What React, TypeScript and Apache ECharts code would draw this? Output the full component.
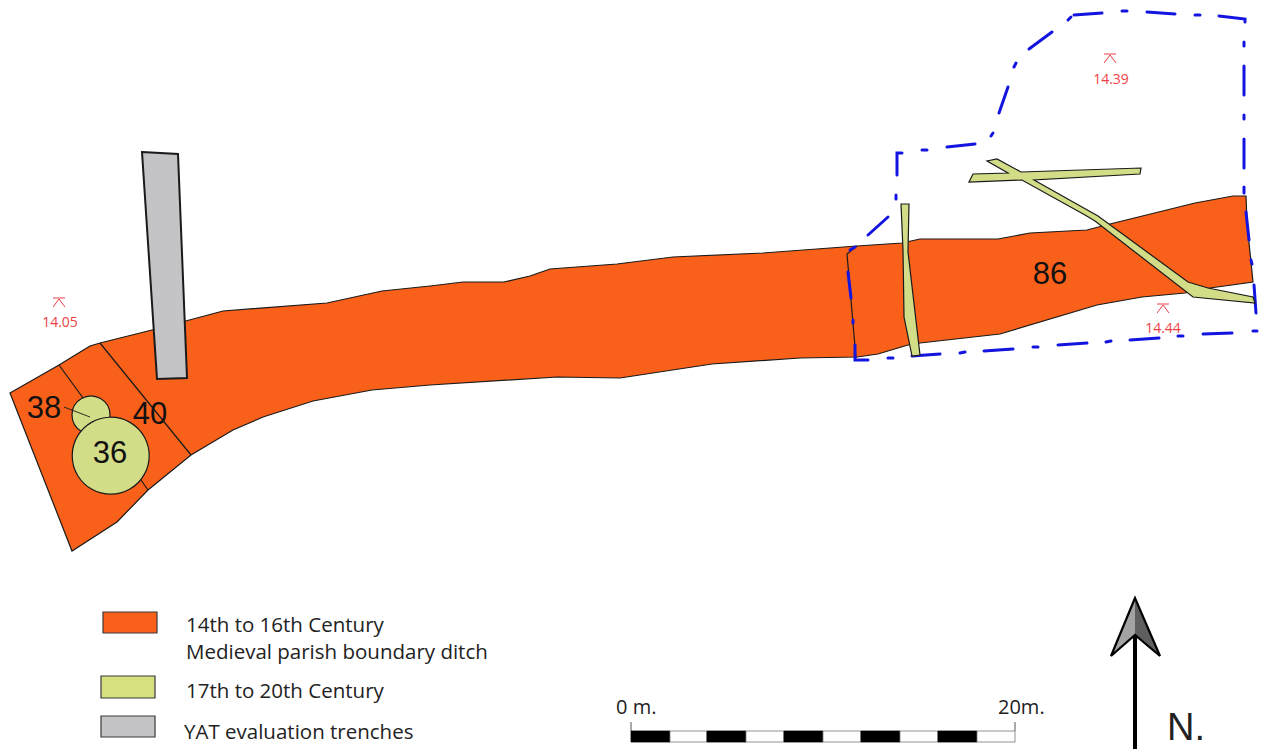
import React, { useEffect, useRef } from "react";
import * as echarts from "echarts";

type Pt = [number, number];

const ditchOutline: Pt[] = [
  [10, 393], [59, 365], [90, 346], [100, 343], [152, 330], [223, 311], [327, 303], [382, 291], [430, 286],
  [463, 282], [504, 282], [530, 276], [550, 269], [617, 264], [673, 257], [763, 253], [857, 246], [902, 243],
  [920, 239], [998, 239], [1030, 233], [1087, 230], [1110, 224], [1195, 203], [1233, 196], [1246, 196],
  [1247, 223], [1253, 282], [1210, 288], [1185, 293], [1142, 297], [1097, 305], [1000, 334], [920, 343],
  [908, 345], [878, 354], [857, 357], [800, 358], [712, 364], [620, 378], [557, 377], [430, 385], [372, 390],
  [313, 401], [263, 417], [233, 430], [191, 455], [148, 490], [117, 522], [72, 551],
];
const ditchDividers: Pt[][] = [
  [[59, 365], [83, 398]],
  [[100, 343], [191, 455]],
  [[141, 480], [148, 490]],
  [[857, 246], [847, 254], [856, 358]],
];
const trenchOutline: Pt[] = [[142, 152], [178, 154], [187, 378], [157, 379]];
const greenVertical: Pt[] = [[901, 204], [909, 204], [908, 252], [920, 355], [912, 356], [904, 317], [903, 250]];
const greenBranch: Pt[] = [
  [969, 182], [973, 174], [1008, 173], [987, 161], [997, 159], [1021, 172], [1141, 168], [1140, 174], [1034, 180],
  [1098, 216], [1188, 282], [1208, 288], [1253, 297], [1255, 303], [1193, 297], [1095, 221], [1085, 215], [1022, 180],
];
const pitCircles: [number, number, number][] = [[91, 415, 19], [110.7, 455.7, 38.5]];
const leaderLine: Pt[] = [[64, 407], [90, 417]];
const boundaryDashes: Pt[][] = [
  [[897, 175], [897, 153], [902, 153]], [[922, 150], [927, 150]], [[947, 147], [975, 144]], [[991, 136], [993, 133]],
  [[999, 113], [1008, 87]], [[1014, 67], [1016, 63]], [[1029, 49], [1052, 32]], [[1068, 20], [1071, 17]],
  [[1074, 15], [1102, 13]], [[1122, 11], [1127, 11]], [[1147, 12], [1175, 14]], [[1195, 15], [1200, 15]],
  [[1219, 16], [1245, 19], [1245, 22]], [[1244, 42], [1244, 46]], [[1244, 66], [1244, 95]], [[1244, 115], [1244, 119]],
  [[1244, 139], [1244, 168]], [[1244, 187], [1244, 193]], [[1246, 212], [1249, 240]], [[1251, 260], [1252, 264]],
  [[1254, 285], [1256, 313]], [[1253, 331], [1257, 331]], [[1203, 334], [1232, 333]], [[1178, 336], [1183, 336]],
  [[1130, 340], [1159, 338]], [[1106, 342], [1111, 341]], [[1058, 345], [1087, 343]], [[1033, 347], [1038, 347]],
  [[984, 351], [1013, 349]], [[960, 353], [965, 352]], [[912, 356], [940, 354]], [[888, 358], [893, 358]],
  [[868, 360], [855, 360], [855, 345]], [[853, 320], [853, 323]], [[848, 272], [851, 298]], [[850, 250], [855, 247]],
  [[868, 235], [888, 217]], [[896, 199], [896, 195]],
];
const contextLabels: [string, number, number][] = [["38", 44, 407], ["40", 150, 413], ["36", 110, 452], ["86", 1050, 273]];
const levelLabels: [string, number, number][] = [["14.05", 60, 321], ["14.39", 1111, 78], ["14.44", 1163, 327]];
const levelMarks: Pt[] = [[59, 298], [1110, 54], [1163, 304]];
const legendSwatches: [number, number, number, number, string][] = [
  [103, 612, 54, 21, "#f9611a"],
  [101, 676, 54, 22, "#d6e07f"],
  [101, 716, 54, 21, "#c4c4c6"],
];
const legendLabels: [string, number, number][] = [
  ["14th to 16th Century", 186, 624],
  ["Medieval parish boundary ditch", 186, 651],
  ["17th to 20th Century", 186, 690],
  ["YAT evaluation trenches", 184, 731],
];
const scaleStops = [631, 670, 707, 746, 784, 823, 861, 900, 938, 977, 1015];
const scaleLabels: [string, number, number][] = [["0 m.", 616, 706], ["20m.", 998, 706]];
const arrowLeft: Pt[] = [[1135, 598], [1111, 656], [1135, 635]];
const arrowRight: Pt[] = [[1135, 598], [1160, 656], [1135, 635]];
const arrowOutline: Pt[] = [[1135, 598], [1111, 656], [1135, 635], [1160, 656]];
const arrowShaft: Pt[] = [[1135, 636], [1135, 749]];
const northLabel: [string, number, number] = ["N.", 1167, 727];

const pts = (api: any, list: Pt[]) => list.map((p) => api.coord(p));
const poly = (api: any, list: Pt[], style: any) => ({
  type: "polygon", shape: { points: pts(api, list) }, style: { lineJoin: "miter", ...style },
});
const line = (api: any, list: Pt[], style: any) => ({
  type: "polyline", shape: { points: pts(api, list) }, style: { fill: "none", ...style },
});
const txt = (api: any, t: [string, number, number], style: any) => {
  const c = api.coord([t[1], t[2]]);
  return { type: "text", x: c[0], y: c[1], style: { text: t[0], verticalAlign: "middle", ...style } };
};

const layer = (name: string, z: number, draw: (api: any) => any[]) => ({
  type: "custom", name, z, silent: true, clip: false, coordinateSystem: "cartesian2d",
  data: [[0, 0]],
  renderItem: (_: any, api: any) => ({ type: "group", children: draw(api) }),
});

const BLACK = "#1a1a1a";
const SANS = "'Liberation Sans', Arial, sans-serif";
const OPEN = "'Open Sans', sans-serif";

export default function App() {
  const ref = useRef<HTMLDivElement>(null);
  useEffect(() => {
    document.body.style.margin = "0";
    document.body.style.background = "#fff";
    const chart = echarts.init(ref.current!, null, { renderer: "svg" });
    chart.setOption({
      animation: false,
      backgroundColor: "#ffffff",
      grid: { left: 0, right: 0, top: 0, bottom: 0 },
      xAxis: { type: "value", min: 0, max: 1263, show: false },
      yAxis: { type: "value", min: 0, max: 749, inverse: true, show: false },
      series: [
        layer("Ditch", 1, (api) => [
          poly(api, ditchOutline, { fill: "#f9611a", stroke: BLACK, lineWidth: 1.2 }),
          ...ditchDividers.map((d) => line(api, d, { stroke: BLACK, lineWidth: 1.2 })),
        ]),
        layer("Boundary", 2, (api) =>
          boundaryDashes.map((d) => line(api, d, { stroke: "#1414e0", lineWidth: 3, lineCap: "round" }))),
        layer("Features", 3, (api) => [
          poly(api, trenchOutline, { fill: "#c4c4c6", stroke: BLACK, lineWidth: 2 }),
          poly(api, greenVertical, { fill: "#d3dc86", stroke: BLACK, lineWidth: 1.2 }),
          poly(api, greenBranch, { fill: "#d3dc86", stroke: BLACK, lineWidth: 1.2 }),
          ...pitCircles.map(([x, y, r]) => {
            const c = api.coord([x, y]);
            return {
              type: "circle",
              shape: { cx: c[0], cy: c[1], r: api.size([r, 0])[0] },
              style: { fill: "#d3dc86", stroke: BLACK, lineWidth: 1.2 },
            };
          }),
          line(api, leaderLine, { stroke: BLACK, lineWidth: 0.9 }),
        ]),
        layer("Labels", 4, (api) => [
          ...contextLabels.map((t) =>
            txt(api, t, { align: "center", fontFamily: SANS, fontSize: 31, fill: "#111" })),
          ...levelLabels.map((t) =>
            txt(api, t, { align: "center", fontFamily: OPEN, fontSize: 14, fill: "#ee3f45" })),
          ...levelMarks.flatMap(([x, y]) => [
            line(api, [[x - 6, y], [x + 6, y]], { stroke: "#ee3f45", lineWidth: 1 }),
            line(api, [[x - 6, y + 9], [x, y + 1], [x + 6, y + 9]], { stroke: "#ee3f45", lineWidth: 1 }),
          ]),
        ]),
        layer("Legend", 5, (api) => [
          ...legendSwatches.map(([x, y, w, h, fill]) =>
            poly(api, [[x, y], [x + w, y], [x + w, y + h], [x, y + h]], { fill, stroke: "#3a3a3a", lineWidth: 1.2 })),
          ...legendLabels.map((t) =>
            txt(api, t, { align: "left", fontFamily: OPEN, fontSize: 20.5, fill: "#222" })),
        ]),
        layer("Scale", 6, (api) => [
          line(api, [[631, 722], [631, 731]], { stroke: "#555", lineWidth: 1 }),
          line(api, [[1015, 722], [1015, 731]], { stroke: "#555", lineWidth: 1 }),
          ...scaleStops.slice(0, -1).map((x, i) =>
            poly(api, [[x, 731], [scaleStops[i + 1], 731], [scaleStops[i + 1], 742], [x, 742]], {
              fill: i % 2 === 0 ? "#000" : "#fff", stroke: i % 2 === 0 ? "#000" : "#777", lineWidth: 0.8,
            })),
          ...scaleLabels.map((t) =>
            txt(api, t, { align: "left", fontFamily: OPEN, fontSize: 20, fill: "#222" })),
        ]),
        layer("North", 7, (api) => [
          poly(api, arrowLeft, { fill: "#a3a3a3" }),
          poly(api, arrowRight, { fill: "#5f5f5f" }),
          poly(api, arrowOutline, { fill: "none", stroke: "#000", lineWidth: 2.2 }),
          line(api, arrowShaft, { stroke: "#000", lineWidth: 4 }),
          txt(api, northLabel, { align: "left", fontFamily: SANS, fontSize: 38, fill: "#222" }),
        ]),
      ],
    });
    return () => chart.dispose();
  }, []);
  return <div ref={ref} style={{ position: "absolute", left: 0, top: 0, width: 1263, height: 749 }} />;
}
